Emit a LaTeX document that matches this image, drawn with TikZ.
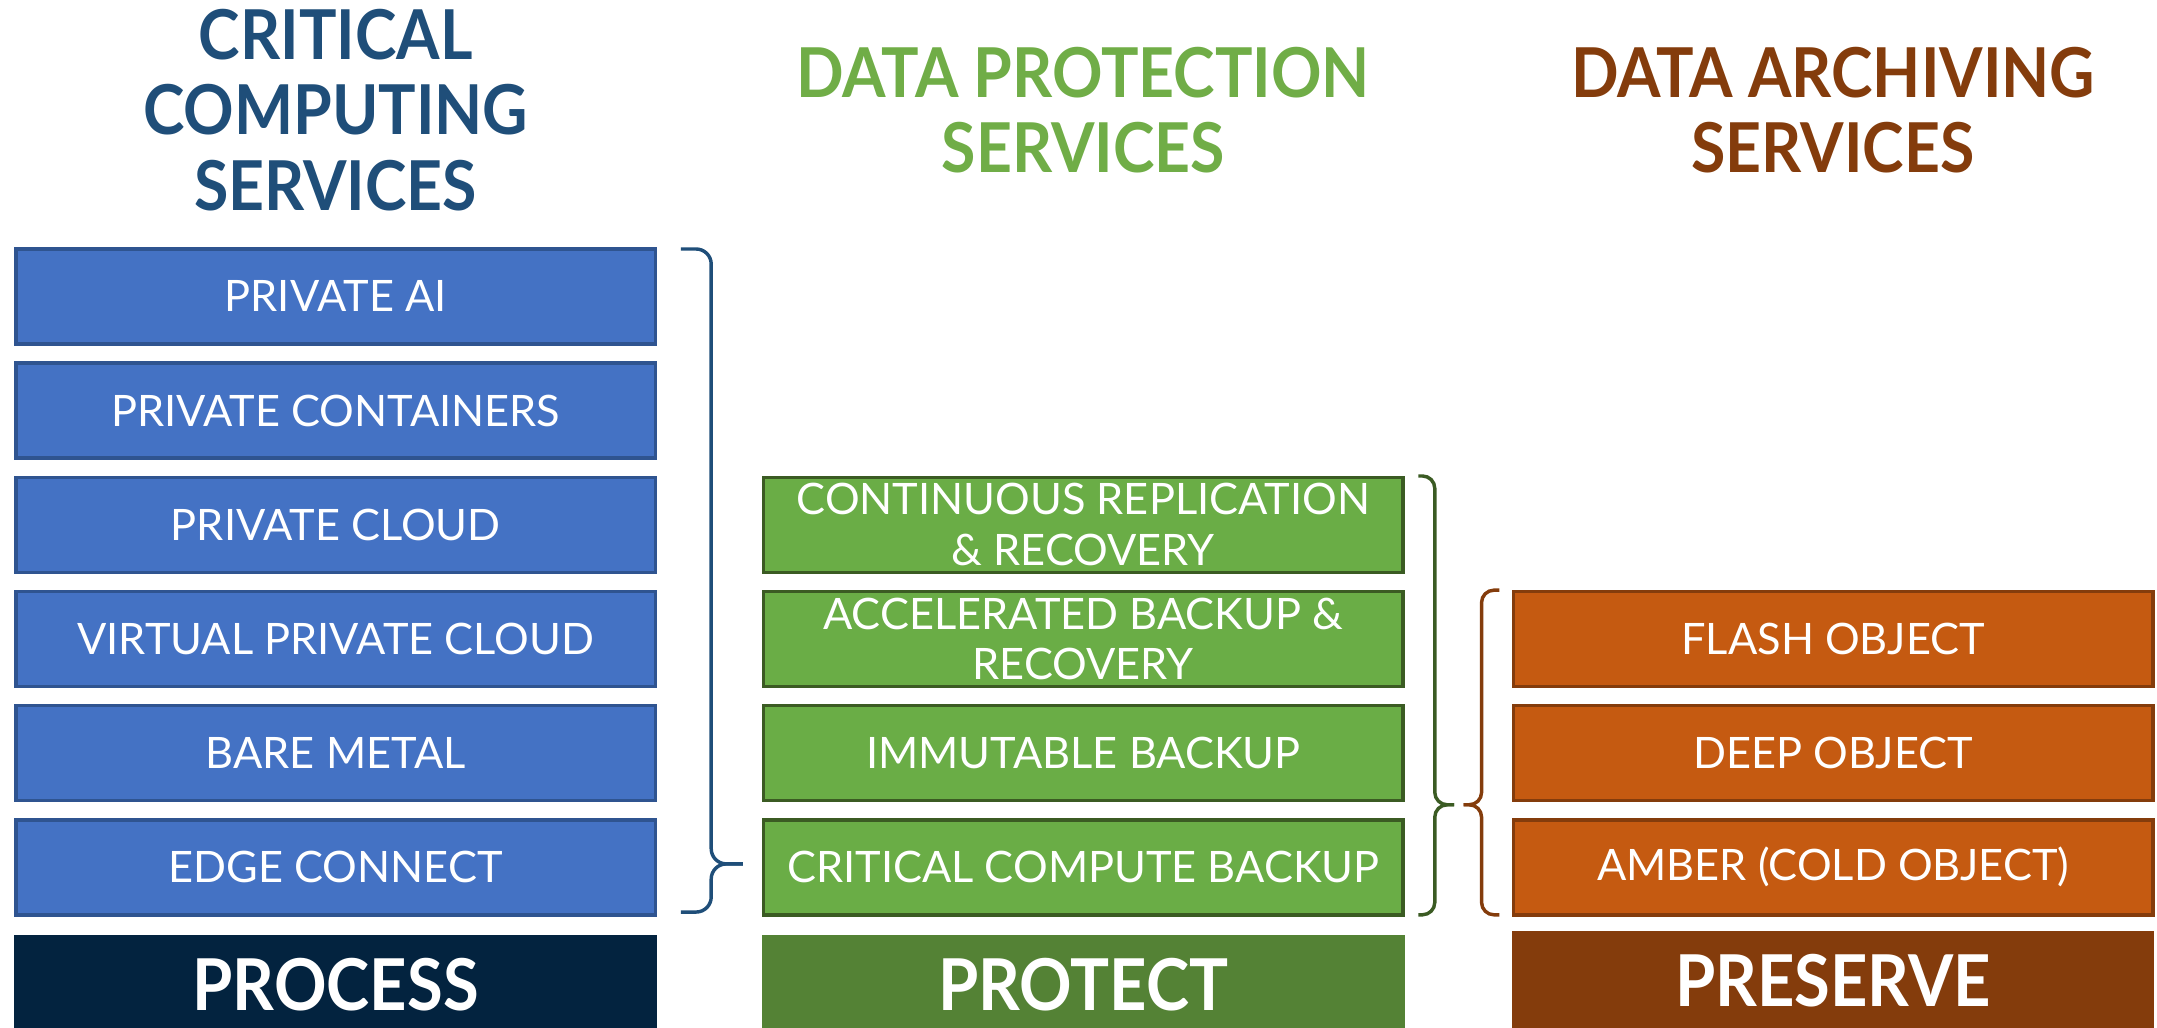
\documentclass[tikz,border=0pt]{standalone}
\usepackage{fontspec}
\setmainfont{Lato}
\newfontfamily\headfont[FakeStretch=0.91]{Lato}
\usetikzlibrary{positioning}

\definecolor{titleblue}{HTML}{1F4E79}
\definecolor{boxblue}{HTML}{4472C4}
\definecolor{edgeblue}{HTML}{2F5490}
\definecolor{navy}{HTML}{03233F}
\definecolor{titlegreen}{HTML}{70AD47}
\definecolor{boxgreen}{HTML}{6AAD46}
\definecolor{edgegreen}{HTML}{3B5B23}
\definecolor{darkgreen}{HTML}{548235}
\definecolor{boxorange}{HTML}{C55A11}
\definecolor{rust}{HTML}{843C0C}

\tikzset{
  svcbox/.style={draw, line width=2.5pt, minimum width=465pt, minimum height=69pt,
                 inner sep=0pt, align=center, text=white,
                 font=\fontsize{31.5}{37}\selectfont},
  footbox/.style={draw, line width=1pt, minimum width=466pt, minimum height=72pt,
                  inner sep=0pt, text=white, font=\headfont\fontsize{52}{60}\selectfont\bfseries},
  coltitle/.style={align=center, font=\headfont\fontsize{50}{55}\selectfont\bfseries},
  colbrace/.style={line width=2.5pt, rounded corners=11pt}
}

\begin{document}
\begin{tikzpicture}[x=1pt,y=-1pt]
  % Define dimensions
  \def\pitch{83}
  \def\top{215.5}
  \useasboundingbox (0,0) rectangle (1568,747);

  % Column titles
  \node[coltitle, titleblue] (critical) at (244,80) {CRITICAL\\COMPUTING\\SERVICES};
  \node[coltitle, titlegreen] (protection) at (787.5,80) {DATA PROTECTION\\SERVICES};
  \node[coltitle, rust] (archiving) at (1332.5,80) {DATA ARCHIVING\\SERVICES};

  % Draw compute boxes
  \foreach \name/\txt [count=\i from 0] in {ai/PRIVATE AI, containers/PRIVATE CONTAINERS,
      pcloud/PRIVATE CLOUD, vpc/VIRTUAL PRIVATE CLOUD, metal/BARE METAL, edge/EDGE CONNECT}
      \node[svcbox, fill=boxblue, draw=edgeblue] (\name) at (244,\top+\i*\pitch) {\txt};

  % Draw protection boxes
  \foreach \name/\txt [count=\i from 2] in {replication/{CONTINUOUS REPLICATION\\\& RECOVERY},
      accel/{ACCELERATED BACKUP \&\\RECOVERY}, immutable/IMMUTABLE BACKUP,
      ccbackup/CRITICAL COMPUTE BACKUP}
      \node[svcbox, fill=boxgreen, draw=edgegreen] (\name) at (787.5,\top+\i*\pitch) {\txt};

  % Draw archiving boxes
  \foreach \name/\txt [count=\i from 3] in {flash/FLASH OBJECT, deep/DEEP OBJECT,
      amber/AMBER (COLD OBJECT)}
      \node[svcbox, fill=boxorange, draw=rust] (\name) at (1332.5,\top+\i*\pitch) {\txt};

  % Footer boxes
  \node[footbox, fill=navy, draw=navy] (process) at (244,716) {PROCESS};
  \node[footbox, fill=darkgreen, draw=darkgreen] (protect) at (787.5,716) {PROTECT};
  \node[footbox, fill=rust, draw=rust] (preserve) at (1332.5,713) {PRESERVE};

  % Define brace ends and tips
  \coordinate (bt) at (495,181);
  \coordinate (bb) at (495,663);
  \coordinate (bc) at (540,628);
  \coordinate (gt) at (1031,346);
  \coordinate (gb) at (1031,665);
  \coordinate (gc) at (1057,585);
  \coordinate (ot) at (1090,429);
  \coordinate (ob) at (1090,665);
  \coordinate (oc) at (1064,585);

  % Draw braces
  \draw[colbrace, titleblue] (bt) -- ++(22,0) |- (bc);
  \draw[colbrace, titleblue] (bc) -- ++(-23,0) |- (bb);
  \draw[colbrace, rounded corners=9pt, edgegreen] (gt) -- ++(12,0) |- (gc);
  \draw[colbrace, rounded corners=9pt, edgegreen] (gc) -- ++(-14,0) |- (gb);
  \draw[colbrace, rounded corners=9pt, rust] (ot) -- ++(-13,0) |- (oc);
  \draw[colbrace, rounded corners=9pt, rust] (oc) -- ++(13,0) |- (ob);

\end{tikzpicture}
\end{document}
